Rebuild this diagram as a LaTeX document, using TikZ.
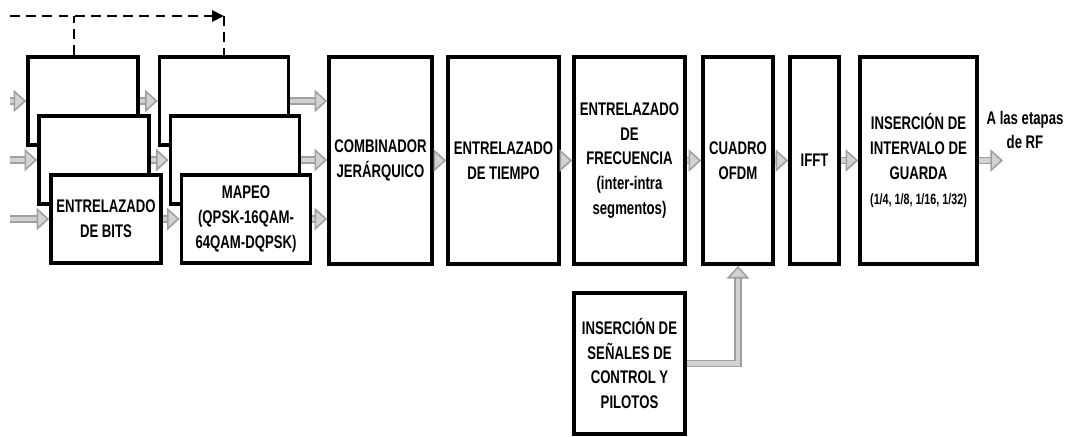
\documentclass[tikz,border=0pt]{standalone}
\usepackage{fontspec}
\newfontfamily\estrecha{Liberation Sans}[FakeStretch=0.72]
\usetikzlibrary{arrows.meta}

\begin{document}
\begin{tikzpicture}[x=0.025cm, y=-0.025cm,
  bloque/.style={draw, line width=2.6pt, fill=white, align=center, inner sep=0pt,
    font=\estrecha\bfseries\fontsize{13}{17.7}\selectfont},
  flecha/.style={draw=gray!35, line width=3.4pt,
    -{Triangle[open, color=gray!75, fill=gray!35, line width=1.1pt, length=9pt, width=16pt]},
    preaction={-, draw=gray!75, line width=5.6pt, shorten >=7.5pt}},
  control/.style={line width=1.4pt, dash pattern=on 7pt off 4.5pt}]

\def\alto{5.175cm}
\def\altop{2.2cm}

\useasboundingbox (0,0) rectangle (1070,436);

% entrelazado de bits (tres capas)
\node[bloque, minimum width=2.75cm, minimum height=\altop] (bit1) at (83,101) {};
\node[bloque, minimum width=2.75cm, minimum height=\altop] (bit2) at (94,160) {};
\node[bloque, minimum width=2.75cm, minimum height=\altop] (bit3) at (106,219)
  {ENTRELAZADO\\DE BITS};

% mapeo (tres capas)
\node[bloque, minimum width=3.225cm, minimum height=\altop] (map1) at (224,101) {};
\node[bloque, minimum width=3.225cm, minimum height=\altop] (map2) at (235,160) {};
\node[bloque, minimum width=3.225cm, minimum height=\altop] (map3) at (246,219)
  {MAPEO\\(QPSK-16QAM-\\64QAM-DQPSK)};

\node[bloque, minimum width=2.575cm, minimum height=\alto] (comb) at (380.5,160.5)
  {COMBINADOR\\JERÁRQUICO};
\node[bloque, minimum width=2.775cm, minimum height=\alto] (tiem) at (503.5,160.5)
  {ENTRELAZADO\\DE TIEMPO};
\node[bloque, minimum width=2.775cm, minimum height=\alto] (frec) at (629.5,160.5)
  {ENTRELAZADO\\DE\\FRECUENCIA\\(inter-intra\\segmentos)};
\node[bloque, minimum width=1.75cm, minimum height=\alto] (ofdm) at (738,160.5)
  {CUADRO\\OFDM};
\node[bloque, minimum width=1.225cm, minimum height=\alto] (ifft) at (814.5,160.5)
  {IFFT};
\node[bloque, minimum width=2.925cm, minimum height=\alto] (guar) at (918.5,160.5)
  {INSERCIÓN DE\\INTERVALO DE\\GUARDA\\{\fontsize{10.6}{17.7}\selectfont (1/4, 1/8, 1/16, 1/32)}};
\node[bloque, minimum width=2.775cm, minimum height=3.525cm] (pil) at (629.5,363.5)
  {INSERCIÓN DE\\SEÑALES DE\\CONTROL Y\\PILOTOS};

\node[align=center, inner sep=0pt, font=\estrecha\bfseries\fontsize{13}{17}\selectfont]
  (rf) at (1025,130) {A las etapas\\de RF};

% entradas y salidas
\coordinate (e1) at (10,101);
\coordinate (e2) at (10,160);
\coordinate (e3) at (10,219);
\coordinate (sal) at (1003,160.5);

\draw[flecha] (e1) -- (bit1.west);
\draw[flecha] (e2) -- (bit2.west);
\draw[flecha] (e3) -- (bit3.west);
\draw[flecha] (bit1.east) -- (map1.west);
\draw[flecha] (bit2.east) -- (map2.west);
\draw[flecha] (bit3.east) -- (map3.west);
\draw[flecha] (map1.east) -- (map1.east -| comb.west);
\draw[flecha] (map2.east) -- (map2.east -| comb.west);
\draw[flecha] (map3.east) -- (map3.east -| comb.west);
\draw[flecha] (comb) -- (tiem);
\draw[flecha] (tiem) -- (frec);
\draw[flecha] (frec) -- (ofdm);
\draw[flecha] (ofdm) -- (ifft);
\draw[flecha] (ifft) -- (guar);
\draw[flecha] (guar) -- (sal);
\draw[flecha] (pil.east) -| (ofdm.south);

% control jerarquico (linea discontinua)
\coordinate (c0) at (10,16);
\coordinate (c1) at (74,16);
\draw[control, -{Triangle[length=8.5pt, width=8pt]}] (c0) -- (map1.north |- c0);
\draw[control] (map1.north |- c0) -- (map1.north);
\draw[control] (bit1.north -| c1) -- (c1);

\end{tikzpicture}
\end{document}
